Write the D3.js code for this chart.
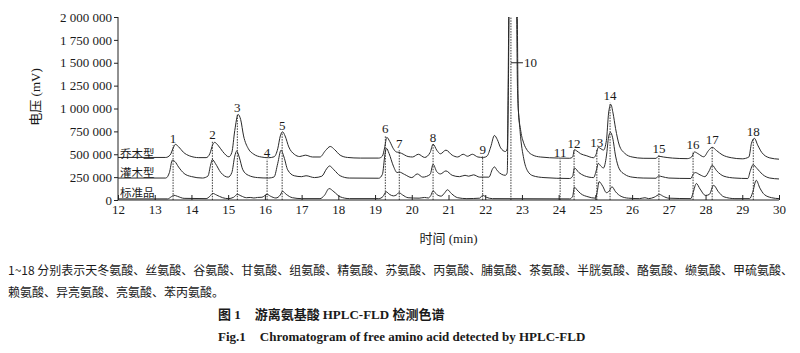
<!DOCTYPE html>
<html lang="zh">
<head>
  <meta charset="UTF-8">
  <title>HPLC-FLD chromatogram</title>
  <script src="https://cdn.jsdelivr.net/npm/d3@7/dist/d3.min.js"></script>
  <style>
    body { margin: 0; background: #fff; }
    text { fill: #1a1a1a; }
  </style>
</head>
<body>
<svg></svg>
<script>
  const width = 800, height = 353

  // 保留时间 (min) / 电压 (mV)，按图读出的折线顶点
  const qiaomu = [[12.0,465000],[13.3,465000],[13.42,492000],[13.5,565000],[13.56,608000],[13.65,582000],[13.78,522000],[13.95,482000],[14.2,463000],[14.4,463000],[14.5,505000],[14.58,605000],[14.63,630000],[14.72,600000],[14.85,530000],[15.02,472000],[15.1,520000],[15.18,760000],[15.27,935000],[15.34,880000],[15.42,700000],[15.55,560000],[15.7,500000],[15.9,470000],[16.1,462000],[16.25,472000],[16.35,560000],[16.42,700000],[16.48,745000],[16.55,700000],[16.65,580000],[16.8,500000],[16.95,475000],[17.1,490000],[17.3,470000],[17.5,470000],[17.65,540000],[17.78,585000],[17.9,550000],[18.05,490000],[18.25,465000],[18.6,458000],[19.1,458000],[19.2,480000],[19.26,570000],[19.32,685000],[19.4,640000],[19.5,560000],[19.58,525000],[19.65,520000],[19.72,510000],[19.9,475000],[20.02,470000],[20.18,500000],[20.35,465000],[20.5,520000],[20.58,610000],[20.68,545000],[20.78,505000],[20.93,545000],[21.1,490000],[21.25,470000],[21.4,500000],[21.52,478000],[21.65,500000],[21.8,470000],[21.95,465000],[22.05,480000],[22.15,580000],[22.25,705000],[22.33,660000],[22.42,570000],[22.55,530000],[22.6,560000],[22.63,1200000],[22.66,2400000],[22.86,2400000],[22.9,1000000],[22.97,750000],[23.05,620000],[23.15,540000],[23.3,490000],[23.5,470000],[24.0,458000],[24.3,456000],[24.38,470000],[24.43,550000],[24.48,540000],[24.6,505000],[24.75,485000],[24.95,462000],[25.02,500000],[25.08,575000],[25.15,560000],[25.22,545000],[25.3,650000],[25.36,950000],[25.42,1045000],[25.48,950000],[25.55,780000],[25.65,600000],[25.8,510000],[26.0,470000],[26.3,456000],[26.65,455000],[26.72,478000],[26.85,470000],[27.1,458000],[27.5,452000],[27.62,470000],[27.7,525000],[27.8,505000],[27.95,472000],[28.08,540000],[28.18,576000],[28.3,540000],[28.45,495000],[28.7,462000],[29.0,450000],[29.18,470000],[29.25,620000],[29.33,674000],[29.42,600000],[29.53,520000],[29.75,460000],[30.0,446000]]

  const guanmu = [[12.0,240000],[13.3,240000],[13.4,300000],[13.48,435000],[13.55,420000],[13.65,360000],[13.8,290000],[14.0,256000],[14.3,240000],[14.45,262000],[14.52,380000],[14.57,442000],[14.65,400000],[14.8,300000],[15.0,250000],[15.1,300000],[15.18,480000],[15.23,535000],[15.3,470000],[15.4,330000],[15.55,270000],[15.8,245000],[16.1,240000],[16.25,252000],[16.35,400000],[16.44,545000],[16.52,470000],[16.62,330000],[16.8,265000],[17.0,255000],[17.12,265000],[17.35,245000],[17.55,260000],[17.68,340000],[17.76,372000],[17.88,330000],[18.05,265000],[18.3,240000],[19.1,238000],[19.2,280000],[19.27,500000],[19.31,565000],[19.38,510000],[19.5,370000],[19.6,300000],[19.66,305000],[19.8,280000],[20.0,245000],[20.15,285000],[20.3,250000],[20.5,280000],[20.58,390000],[20.68,310000],[20.78,285000],[20.93,318000],[21.1,270000],[21.3,255000],[21.45,270000],[21.55,260000],[21.68,275000],[21.85,250000],[22.1,250000],[22.2,340000],[22.25,362000],[22.33,320000],[22.45,280000],[22.55,270000],[22.6,300000],[22.63,1500000],[22.65,2400000],[22.84,2400000],[22.88,1200000],[22.95,750000],[23.05,450000],[23.15,320000],[23.3,265000],[23.6,245000],[24.3,235000],[24.38,260000],[24.43,350000],[24.55,300000],[24.7,265000],[24.95,245000],[25.03,330000],[25.08,400000],[25.15,370000],[25.22,350000],[25.3,480000],[25.36,690000],[25.41,740000],[25.47,680000],[25.55,480000],[25.65,340000],[25.8,280000],[26.0,250000],[26.3,240000],[26.65,238000],[26.72,262000],[26.82,255000],[27.0,240000],[27.6,235000],[27.66,280000],[27.72,300000],[27.85,275000],[27.98,255000],[28.1,320000],[28.18,380000],[28.3,320000],[28.5,260000],[28.8,240000],[29.15,235000],[29.22,320000],[29.29,385000],[29.4,345000],[29.55,280000],[29.75,240000],[30.0,230000]]

  const biaozhun = [[12.0,12000],[13.35,12000],[13.45,35000],[13.52,52000],[13.62,40000],[13.8,18000],[14.4,15000],[14.5,40000],[14.58,72000],[14.68,55000],[14.85,25000],[15.0,15000],[15.15,30000],[15.25,62000],[15.35,45000],[15.5,25000],[15.6,28000],[15.7,22000],[15.8,28000],[15.92,30000],[16.06,62000],[16.15,42000],[16.3,22000],[16.42,55000],[16.48,95000],[16.58,62000],[16.75,25000],[17.0,15000],[17.5,15000],[17.62,50000],[17.75,125000],[17.88,90000],[18.05,35000],[18.3,15000],[19.1,15000],[19.22,40000],[19.3,90000],[19.4,60000],[19.5,45000],[19.58,55000],[19.65,80000],[19.75,55000],[19.9,25000],[20.2,20000],[20.35,28000],[20.45,22000],[20.52,50000],[20.58,100000],[20.68,60000],[20.8,42000],[20.9,80000],[20.97,112000],[21.08,70000],[21.25,25000],[21.5,15000],[21.85,20000],[21.93,52000],[22.03,30000],[22.2,15000],[24.3,12000],[24.38,40000],[24.43,140000],[24.5,110000],[24.6,70000],[24.8,35000],[25.0,20000],[25.05,90000],[25.1,200000],[25.2,150000],[25.3,80000],[25.38,100000],[25.45,145000],[25.55,90000],[25.7,40000],[25.9,20000],[26.2,15000],[26.35,25000],[26.45,15000],[26.6,30000],[26.75,60000],[26.85,40000],[27.0,20000],[27.6,15000],[27.66,80000],[27.75,180000],[27.85,120000],[28.0,50000],[28.1,60000],[28.22,160000],[28.35,90000],[28.5,35000],[28.8,15000],[29.2,15000],[29.28,80000],[29.38,215000],[29.48,130000],[29.6,60000],[29.8,25000],[30.0,15000]]

  const seriesNames = ['乔木型', '灌木型', '标准品']
  const seriesLabelValues = [460000, 250000, 30000]

  // 峰号、保留时间、标注高度
  const peakNo = [1, 2, 3, 4, 5, 6, 7, 8, 9, 10, 11, 12, 13, 14, 15, 16, 17, 18]
  const peakTime = [13.50, 14.57, 15.25, 16.06, 16.47, 19.28, 19.66, 20.58, 21.93, 22.70, 24.04, 24.42, 25.04, 25.40, 26.73, 27.66, 28.18, 29.30]
  const peakLabelValue = [674000, 717000, 1011000, 522000, 815000, 783000, 620000, 685000, 554000, 1500000, 522000, 620000, 630000, 1141000, 565000, 609000, 663000, 750000]

  const xTicks = [12, 13, 14, 15, 16, 17, 18, 19, 20, 21, 22, 23, 24, 25, 26, 27, 28, 29, 30]
  const yTicks = [0, 250000, 500000, 750000, 1000000, 1250000, 1500000, 1750000, 2000000]

  const legendText = [
    '1~18 分别表示天冬氨酸、丝氨酸、谷氨酸、甘氨酸、组氨酸、精氨酸、苏氨酸、丙氨酸、脯氨酸、茶氨酸、半胱氨酸、酪氨酸、缬氨酸、甲硫氨酸、',
    '赖氨酸、异亮氨酸、亮氨酸、苯丙氨酸。'
  ]

  const serif = '"Liberation Serif", "DejaVu Serif", serif'
  const cjk = '"Noto Sans CJK SC", sans-serif'

  const x = d3.scaleLinear().domain([12, 30]).range([118, 779])
  const y = d3.scaleLinear().domain([0, 2000000]).range([200, 17])

  const svg = d3.select('svg')
      .attr('width', width)
      .attr('height', height)
      .attr('viewBox', [0, 0, width, height])

  svg.append('defs').append('clipPath').attr('id', 'plot')
      .append('rect')
      .attr('x', x(12)).attr('y', y(2000000))
      .attr('width', x(30) - x(12)).attr('height', y(0) - y(2000000))

  // 峰标记虚线
  svg.append('g')
      .attr('stroke', '#222')
      .attr('stroke-width', 0.9)
      .attr('stroke-dasharray', '1.5,1.2')
      .selectAll('line')
      .data(peakNo)
      .join('line')
      .attr('x1', (d, i) => x(peakTime[i]))
      .attr('x2', (d, i) => x(peakTime[i]))
      .attr('y1', y(0))
      .attr('y2', (d, i) => d === 10 ? y(2000000) : y(peakLabelValue[i]) + 7)

  const line = d3.line()
      .x(d => x(d[0]))
      .y(d => y(d[1]))
      .curve(d3.curveMonotoneX)

  svg.append('g')
      .attr('clip-path', 'url(#plot)')
      .attr('fill', 'none')
      .attr('stroke', '#2a2a2a')
      .attr('stroke-width', 1)
      .selectAll('path')
      .data([qiaomu, guanmu, biaozhun])
      .join('path')
      .attr('d', line)

  // 坐标轴
  svg.append('g')
      .attr('transform', `translate(0,${y(0)})`)
      .call(d3.axisBottom(x).tickValues(xTicks).tickSize(-5).tickPadding(5).tickFormat(d3.format('d')))
      .call(g => g.select('.domain').attr('d', `M${x(12)},0H${x(30)}`))
      .call(g => g.selectAll('text').attr('font-family', serif).attr('font-size', 13).attr('fill', '#1a1a1a'))
      .call(g => g.selectAll('line, .domain').attr('stroke', '#222'))

  svg.append('g')
      .attr('transform', `translate(${x(12)},0)`)
      .call(d3.axisLeft(y).tickValues(yTicks).tickSize(4).tickPadding(2)
          .tickFormat(d => d3.format(',')(d).replace(/,/g, ' ')))
      .call(g => g.select('.domain').attr('d', `M0,${y(0)}V${y(2000000)}`))
      .call(g => g.selectAll('text').attr('font-family', serif).attr('font-size', 13).attr('fill', '#1a1a1a'))
      .call(g => g.selectAll('line, .domain').attr('stroke', '#222'))

  // 峰号
  svg.append('g')
      .attr('font-family', serif)
      .attr('font-size', 13)
      .selectAll('text')
      .data(peakNo.filter(d => d !== 10))
      .join('text')
      .attr('x', d => x(peakTime[d - 1]))
      .attr('y', d => y(peakLabelValue[d - 1]))
      .attr('dy', '0.35em')
      .attr('text-anchor', 'middle')
      .text(d => d)

  const p10 = peakNo.indexOf(10)
  svg.append('line')
      .attr('x1', x(peakTime[p10])).attr('x2', x(peakTime[p10]) + 12)
      .attr('y1', y(peakLabelValue[p10])).attr('y2', y(peakLabelValue[p10]))
      .attr('stroke', '#222')
  svg.append('text')
      .attr('x', x(peakTime[p10]) + 13)
      .attr('y', y(peakLabelValue[p10]))
      .attr('dy', '0.35em')
      .attr('font-family', serif)
      .attr('font-size', 13)
      .text('10')

  // 系列名
  svg.append('g')
      .attr('font-family', cjk)
      .attr('font-size', 11.5)
      .selectAll('text')
      .data(seriesNames)
      .join('text')
      .attr('x', x(12) + 2)
      .attr('y', (d, i) => y(seriesLabelValues[i]))
      .text(d => d)

  // 坐标轴标题
  const xt = svg.append('text')
      .attr('x', (x(12) + x(30)) / 2)
      .attr('y', 243)
      .attr('text-anchor', 'middle')
      .attr('font-size', 13)
  xt.append('tspan').attr('font-family', cjk).text('时间')
  xt.append('tspan').attr('font-family', serif).text(' (min)')

  const yt = svg.append('text')
      .attr('transform', 'translate(40,97) rotate(-90)')
      .attr('text-anchor', 'middle')
      .attr('font-size', 13)
  yt.append('tspan').attr('font-family', cjk).text('电压')
  yt.append('tspan').attr('font-family', serif).text(' (mV)')

  // 图注
  svg.append('g')
      .attr('font-family', cjk)
      .attr('font-size', 12)
      .selectAll('text')
      .data(legendText)
      .join('text')
      .attr('x', 8)
      .attr('y', (d, i) => 275 + i * 22)
      .attr('textLength', (d, i) => i === 0 ? 785 : null)
      .attr('lengthAdjust', 'spacingAndGlyphs')
      .text(d => d)

  const cap = svg.append('text')
      .attr('x', 218).attr('y', 319)
      .attr('font-size', 13)
      .attr('font-weight', 'bold')
  cap.append('tspan').attr('font-family', cjk).text('图')
  cap.append('tspan').attr('font-family', serif).text(' 1')
  cap.append('tspan').attr('dx', 14).attr('font-family', cjk).text('游离氨基酸 ')
  cap.append('tspan').attr('font-family', serif).text('HPLC-FLD ')
  cap.append('tspan').attr('font-family', cjk).text('检测色谱')

  const capEn = svg.append('text')
      .attr('x', 218).attr('y', 341)
      .attr('font-family', serif)
      .attr('font-size', 13)
      .attr('font-weight', 'bold')
  capEn.append('tspan').text('Fig.1')
  capEn.append('tspan').attr('dx', 14).text('Chromatogram of free amino acid detected by HPLC-FLD')
</script>
</body>
</html>
